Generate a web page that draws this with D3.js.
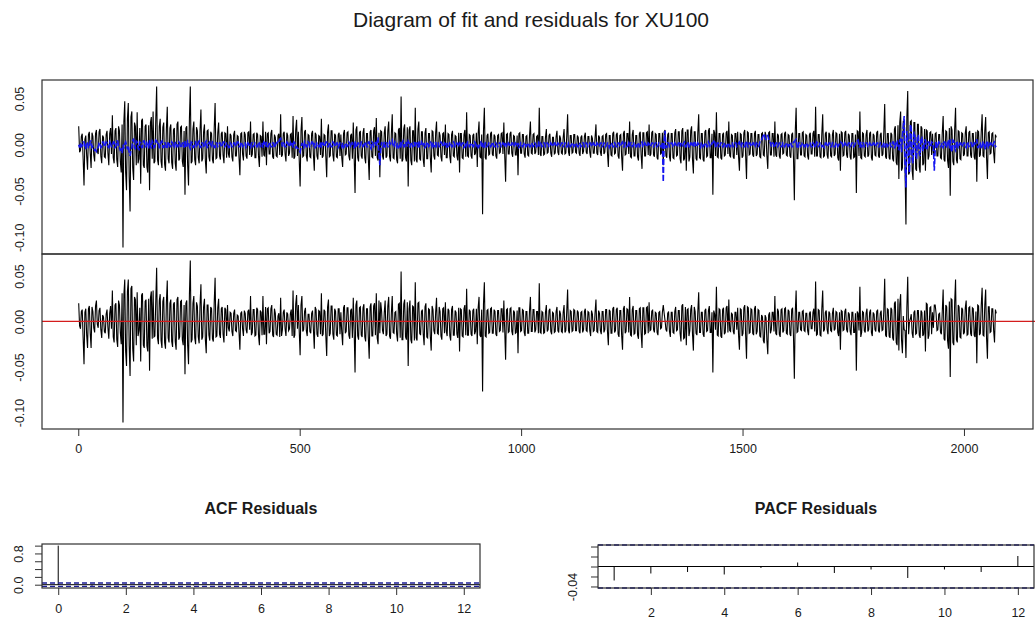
<!DOCTYPE html>
<html>
<head>
<meta charset="utf-8">
<script src="https://cdn.jsdelivr.net/npm/d3@7"></script>
<style>
  body { margin: 0; background: #fff; }
  svg { display: block; }
  text { font-family: "Liberation Sans", Arial, sans-serif; fill: #1a1a1a; }
</style>
</head>
<body>
<svg id="chart" width="1035" height="625"></svg>
<script>
// XU100 daily log-returns and the model's fitted values, one value every
// 2nd trading day, in thousandths.
const sampleStep = 2;

const observedMilli = [
  20, -8, -6, 9, 12, -15, -44, 6, 10, -12, -27, 11, 14, -9, -25, 13, 9, -11, -18, 12, 16, -7, -10, 14, 17, -12, -20, 10, 8, -13, -14, 11, 15, -9, -22, 12, 18, -10, 32, -14,
  -20, 15, 18, -16, -24, 20, 15, -18, -30, 22, -111, 25, 47, -30, -49, 28, 45, -35, -72, 30, 36, -25, -38, 24, 20, -22, 35, -20, -15, 18, -42, 26, 28, -22, -25, 20, 22, -24, -30, 21,
  -49, 24, 30, -15, 36, -20, -18, 27, 63, -16, -22, 20, 28, -18, -25, 19, 24, -21, -28, 17, 41, -15, -20, 18, 22, -19, -26, 16, 18, -20, -28, 22, 25, -17, -15, 19, 20, -18, -24, 15,
  -54, 18, 20, -22, -44, 28, 63, -20, -18, 17, 25, -16, -22, 19, 15, -14, -20, 16, 38, -18, -15, 14, 22, -17, -31, 15, 16, -13, -18, 14, 12, -16, -20, 18, 45, -15, -14, 13, 24, -12,
  -16, 12, 14, -11, -20, 13, 12, -14, 20, -10, -14, 12, 10, -13, -18, 11, 15, -12, -12, 10, 9, -14, -33, 12, 13, -10, -17, 14, 11, -12, -15, 13, 14, -11, 25, -13, -10, 11, 12, -14,
  -14, 13, 11, -12, -24, 10, 9, -13, 25, -11, -12, 14, -22, 12, 13, -10, -10, 12, 16, -13, -15, 11, 8, -12, -13, 10, 12, -11, 33, -13, -11, 12, 14, -10, -18, 13, 10, -12, -9, 11,
  12, -14, 31, -15, -13, 16, 27, -12, 14, -17, -45, 15, 30, -13, -12, 14, 16, -12, -18, 11, 10, -13, -14, 12, 15, -11, -28, 13, 11, -12, -16, 10, 9, -11, 28, -14, -12, 11, 10, -13,
  -35, 14, 22, -13, -12, 15, 15, -11, -18, 12, 10, -13, -14, 11, 13, -12, 11, -14, -24, 12, 16, -11, -10, 13, 14, -12, -17, 10, 12, -15, 24, -13, -52, 16, 20, -14, -18, 13, 15, -12,
  -15, 13, 18, -14, -20, 12, 12, -15, -38, 14, 16, -13, -14, 15, 19, -12, 29, -14, -17, 13, -35, 15, 14, -12, -16, 13, 20, -14, -12, 15, 25, -13, -18, 12, 33, -14, -15, 13, 12, -16,
  -20, 16, 18, -15, 52, -18, -16, 17, 22, -14, -18, 19, -45, 16, 20, -17, -22, 15, 15, -18, 40, -16, -19, 17, 25, -15, -17, 14, 14, -16, -24, 13, 18, -15, -15, 12, 12, -14, -30, 15,
  14, -12, -16, 13, 25, -11, -12, 14, 10, -13, -18, 12, 13, -11, 22, -14, -14, 12, 11, -13, -20, 11, 15, -12, -13, 10, 9, -12, -17, 13, -30, 12, 12, -14, -15, 11, 16, -13, 35, -12,
  -13, 11, 10, -12, -15, 10, 12, -11, -9, 13, -24, 12, 25, -13, -14, 11, -75, 15, 40, -14, -16, 10, 12, -11, -10, 12, 14, -10, -12, 11, 9, -12, -15, 10, 11, -9, -8, 12, 13, -10,
  24, -12, -40, 11, 12, -10, -10, 12, 14, -9, -13, 10, 9, -11, -11, 10, -33, 12, 13, -9, -9, 11, 11, -10, -14, 9, 10, -11, -12, 10, 25, -9, -10, 11, 12, -10, -8, 9, 10, -11,
  40, -10, -12, 9, 9, -11, -10, 8, 17, -9, -8, 10, 12, -9, -13, 8, 8, -10, -9, 9, 15, -8, -11, 10, 7, -9, -10, 8, 17, -10, -9, 9, 33, -8, -12, 10, 10, -9, -8, 11,
  11, -8, -9, 10, 8, -9, -12, 8, 10, -10, -7, 9, 13, -8, -10, 9, 9, -8, -14, 10, 7, -9, -9, 8, 22, -9, -11, 10, 8, -8, -12, 9, 10, -10, -8, 11, 12, -9, -24, 10,
  10, -11, -12, 12, 14, -10, -9, 11, 13, -12, -15, 10, 11, -13, -28, 12, 15, -11, -10, 12, 12, -10, 25, -13, -14, 11, 16, -12, -12, 10, 10, -13, -17, 12, 14, -11, -26, 13, 13, -12,
  -12, 13, 14, -11, 22, -12, -10, 13, 15, -11, -13, 12, 11, -14, -16, 12, 12, -10, -9, 13, -22, 14, 16, -12, -14, 11, 13, -13, -18, 12, 12, -14, -15, 13, 17, -12, -11, 14, 14, -15,
  -20, 15, 18, -17, -15, 14, -28, 16, 16, -18, -13, 15, 20, -16, -31, 14, 14, -15, -17, 13, 33, -14, -15, 12, 12, -16, -18, 14, 16, -13, -12, 15, 18, -14, -14, 12, -54, 16, 13, -12,
  35, -13, -14, 12, 12, -14, -16, 11, 13, -12, -11, 13, 15, -10, 25, -12, -13, 11, 10, -13, -15, 12, 12, -11, 14, -13, -28, 12, 11, -14, -12, 13, 16, -12, -37, 14, 13, -11, -10, 12,
  12, -11, -13, 12, 15, -12, -10, 11, 11, -13, -14, 12, 13, -11, -12, 14, 10, -12, -26, 13, 14, -11, -11, 12, 12, -13, 25, -11, -13, 12, 10, -12, -15, 11, 12, -10, -9, 12, 14, -11,
  -12, 11, 10, -12, -14, 11, 13, -13, -60, 14, 40, -15, -15, 12, 12, -11, -11, 13, 14, -12, -13, 11, 10, -12, -16, 11, 13, -10, -10, 12, 15, -13, 41, -12, -12, 11, 11, -13, -14, 12,
  33, -13, -12, 12, 14, -11, -15, 13, 11, -12, -13, 11, 16, -12, -10, 13, 12, -14, -17, 12, -28, 14, 13, -12, -11, 13, 15, -11, -14, 12, 10, -13, -16, 12, 12, -14, -13, 11, -52, 15,
  14, -12, 36, -14, -15, 13, 12, -12, -13, 11, 16, -13, -11, 12, 14, -14, -17, 12, 10, -11, -12, 13, 15, -12, -14, 11, 13, -12, -10, 14, 44, -13, -15, 12, 12, -14, -16, 13, 11, -15,
  -18, 17, 20, -19, -22, 21, -37, 24, 36, -28, -25, 26, 22, -30, -86, 30, 58, -32, -30, 25, 26, -28, -38, 24, 24, -26, -28, 22, 22, -24, -30, 20, 18, -22, -20, 17, -28, 16, 15, -16,
  -12, 13, 14, -11, 12, -10, -10, 12, 13, -12, -12, 11, 11, -14, -15, 13, 31, -16, -18, 15, 14, -17, -25, 18, -55, 20, 16, -18, -22, 17, 40, -16, -20, 15, 14, -15, -16, 13, 12, -12,
  -10, 13, 20, -12, -12, 13, 15, -11, -14, 12, 12, -13, -16, 14, -40, 15, 14, -13, -11, 14, 33, -12, -13, 15, 30, -14, -37, 13, 14, -10, -9, 12, 13, -8, -20, 11, 8
];

const fittedMilli = [
  0, -3, 2, -2, -1, 3, 3, -4, -4, 3, 2, -3, -3, 4, 4, -3, -2, -4, -6, -5, -7, -4, -3, 2, 2, -3, -2, 3, 3, -2, -1, 3, 2, -2, -3, 3, 1, -2, -2, 3,
  3, -3, -2, 4, 4, -3, -3, -6, -5, -9, 0, -4, 1, 3, 0, -5, -1, -8, -12, -6, -3, 5, 6, -3, -4, 4, 3, -4, -5, 3, 2, -3, -3, 4, 4, -2, -2, 3, 3, -4,
  5, -2, -3, 4, 2, -3, -2, 5, 4, 2, 3, -3, -2, 3, 4, -3, -3, 2, 2, -4, -4, 3, 3, -2, -2, 3, 2, -3, -3, 2, 3, -2, -2, 3, 2, -3, -3, 2, 2, -3,
  4, -2, -3, 4, 3, -2, -4, 3, 2, -3, -3, 2, 3, -2, -2, 3, 4, -3, -3, 2, 2, -2, -3, 3, 4, -3, -2, 2, 3, -2, -2, 3, 2, -3, -3, 2, 2, -2, -1, 2,
  2, -2, -2, 3, 3, -2, -1, 2, 2, -3, -3, 2, 1, -2, -2, 2, 2, -2, -1, 3, 3, -2, -2, 3, 2, -2, -1, 2, 2, -3, -2, 2, 1, -2, -3, 2, 2, -2, -1, 2,
  1, -2, -2, 3, 2, -2, -1, 2, -3, 3, 2, -2, 3, -2, -2, 3, 1, -2, -2, 2, 2, -3, -1, 2, 2, 4, 3, 6, 7, 3, -2, 2, 1, -2, -2, 3, 2, -2, -1, 2,
  -1, 2, -3, 3, 2, -3, -2, -4, -4, -6, -8, -3, 2, -2, -3, 3, 1, -2, -2, 3, 2, -2, -1, 3, 3, -2, 2, -3, -2, 2, 1, -2, -2, 3, -3, 2, 2, -2, -1, 3,
  3, -2, -2, 3, 1, -2, -2, 3, 2, -2, -1, 2, 2, -3, -1, 2, 1, -2, 2, -3, -2, 2, 1, -2, -1, 3, 2, -2, -2, 3, -2, -3, 4, -2, -3, 2, 2, -2, -1, 3,
  2, -2, -1, 3, 2, -2, -2, 3, 3, -2, -4, 3, 2, -2, -1, 3, -2, 4, 8, -10, -22, -6, 3, -2, -2, 3, -3, 2, 2, -2, -2, 3, 1, 3, 5, -2, -2, 3, 1, -2,
  2, -3, -2, 3, -3, 2, 4, -2, -2, 3, 2, -2, 4, 2, -3, 3, 2, -2, -1, 3, -3, 2, 2, -3, 4, -2, -2, 3, 1, -2, 2, -3, -2, 2, 3, -2, -1, 3, 2, -2,
  1, -2, -2, 3, -1, 2, 2, -2, -1, 3, 2, -2, -2, 2, 1, -3, 2, -2, -1, 3, 1, -2, -2, 3, 2, -2, -1, 2, 1, -2, 3, -2, -1, 2, 2, -3, -2, 2, -1, 3,
  2, -2, -1, 2, 1, -2, -2, 3, 2, -1, 1, -3, -2, 2, 3, -2, 2, -4, -3, 2, 1, -2, -1, 2, 2, -2, -1, 3, 1, -2, -2, 2, 1, -2, -1, 2, 2, -2, -1, 2,
  1, -2, 2, -2, -2, 2, 1, -2, -1, 2, 2, -2, -1, 2, 1, -2, 2, -3, -2, 2, 1, -2, -1, 2, 2, -2, -1, 2, 1, -2, -2, 2, 1, -2, -1, 2, 1, -2, -1, 2,
  -2, 2, 1, -2, -1, 2, 2, -2, -1, 2, 1, -2, -2, 2, 1, -2, -1, 2, 2, -2, -1, 2, 1, -2, -1, 2, 2, -2, -1, 2, 1, -2, -2, 2, 1, -2, -1, 2, 2, -2,
  -1, 2, 1, -2, -2, 2, 1, -2, -1, 2, 2, -2, -1, 2, 1, -2, -1, 2, 2, -2, -1, 2, 1, -2, -2, 2, 1, -2, -1, 2, 2, -2, -1, 2, 1, -2, -1, 2, 2, -3,
  -1, 2, 1, -2, -2, 2, 1, -2, -2, 2, 2, -2, -1, 2, 3, -2, -2, 2, 1, -2, -1, 2, -2, 2, 2, -2, -1, 2, 1, -2, -2, 2, 2, -2, -1, 2, 3, -2, -2, 2,
  1, -2, -2, 2, 1, -2, -1, 2, 2, -2, -1, 2, 2, -2, -1, 2, 1, -2, -2, 3, -40, 5, 15, -3, -3, 2, 2, -2, -1, 2, 2, -2, -2, 2, 1, -2, -2, 2, 2, -2,
  2, -2, -1, 2, 3, -2, -2, 3, 2, -2, -3, 2, 2, -2, 1, -2, 3, -2, -2, 2, 1, -2, -3, 2, 2, -2, -1, 2, 2, -2, -2, 3, 1, -2, -2, 2, 2, 4, 5, -3,
  -3, 2, 2, -2, -1, 2, 2, -2, -2, 2, 1, -2, -2, 2, 1, -2, -2, 2, 2, -2, -1, 2, 2, -2, -1, 2, 3, -2, -2, 2, 1, -2, -2, 3, 4, -2, -2, 2, 2, -2,
  -1, 2, 2, -2, -2, 2, 1, -2, -1, 3, 3, 5, 8, 10, 12, 7, 6, 9, 10, 6, 4, 2, -2, 2, 2, -2, -3, 2, 2, -2, -1, 2, 2, -2, -2, 2, 1, -2, -1, 2,
  2, -2, -1, 2, 2, -2, -2, 3, 3, 5, 6, -3, -4, 2, 2, -2, -1, 2, 2, -2, -2, 2, 1, -2, -1, 2, 2, -2, -2, 2, 1, -2, -3, 3, 2, -2, -1, 2, 2, -2,
  -1, -2, -3, 2, 2, -2, -1, 2, 2, -2, -2, 2, 1, -2, -2, 2, 2, -2, -1, 2, 3, 2, 2, -2, -2, 2, 1, -2, -2, 2, 2, -2, -1, 2, 2, -2, -1, 2, 2, 4,
  5, -2, -2, 3, -3, 2, 2, -2, -1, 2, 2, -2, -2, 2, 1, -2, -1, 2, 2, -2, -1, 2, 2, -2, -2, 2, 1, -2, -1, 2, -3, 2, 2, -2, -1, 2, 2, -2, -2, 3,
  3, -3, -2, 4, 4, -4, -5, 5, 6, -8, 10, 20, 31, -20, -46, 15, 9, -18, -30, 22, 18, -15, -20, 14, 12, -12, -15, 10, 10, -9, -12, 8, 8, -6, -6, 5, 5, -4, -4, 3,
  3, -2, -2, 3, 2, -3, -28, -6, 4, -2, -3, 3, 2, -2, -1, 2, -4, 3, 3, -3, -2, 4, 5, -4, 6, -5, -8, 5, 4, -4, -6, 4, 3, -3, -2, 2, 2, -2, -1, 2,
  2, -2, -3, 3, 2, -2, -1, 2, 2, -3, -2, 2, 1, 3, 6, -3, -3, 2, 2, -4, -4, 3, 3, -3, -5, 4, 4, -3, -2, 2, 2, -2, -1, 2, 3, -2, -1
];

// Autocorrelations of the residuals
const acfLags = [0, 1, 2, 3, 4, 5, 6, 7, 8, 9, 10, 11, 12];
const acfValues = [1, -0.027, -0.013, -0.011, -0.016, -0.003, 0.008, -0.013, -0.006, -0.022, -0.006, -0.011, 0.021];
const pacfLags = [1, 2, 3, 4, 5, 6, 7, 8, 9, 10, 11, 12];
const pacfValues = [-0.028, -0.014, -0.011, -0.016, -0.003, 0.008, -0.013, -0.006, -0.023, -0.006, -0.011, 0.021];

// Axis ticks and labels
const timeTicks = [0, 500, 1000, 1500, 2000];
const returnTicks = [0.05, 0, -0.05, -0.10];
const returnTickLabels = ["0.05", "0.00", "-0.05", "-0.10"];
const acfTicksX = [0, 2, 4, 6, 8, 10, 12];
const acfTicksY = [0, 0.2, 0.4, 0.6, 0.8, 1.0];
const acfLabelsY = { 0: "0.0", 0.8: "0.8" };
const pacfTicksX = [2, 4, 6, 8, 10, 12];
const pacfTicksY = [-0.04, -0.02, 0, 0.02, 0.04];
const pacfLabelsY = { "-0.04": "-0.04" };

const mainTitle = "Diagram of fit and residuals for XU100";
const acfTitle = "ACF Residuals";
const pacfTitle = "PACF Residuals";

// ---------------------------------------------------------------
const svg = d3.select("#chart");
const FONT = '"Liberation Sans", Arial, sans-serif';
const frameColor = "#303030";
const ciColor = "#1e1e96";

// R-style axis range: data range widened by 4% on each side
const pad4 = ([lo, hi]) => { const e = (hi - lo) * 0.04; return [lo - e, hi + e]; };

const n = Math.min(observedMilli.length, fittedMilli.length);
const observed = observedMilli.slice(0, n).map((v, i) => ({ day: 1 + i * sampleStep, v: v / 1000 }));
const fitted = fittedMilli.slice(0, n).map((v, i) => ({ day: 1 + i * sampleStep, v: v / 1000 }));
const residual = observed.map((d, i) => ({ day: d.day, v: d.v - fitted[i].v }));
const lastDay = observed[n - 1].day;

const fitBox = { left: 42, right: 1033, top: 80, bottom: 254 };
const resBox = { left: 42, right: 1033, top: 254, bottom: 429 };
const acfBox = { left: 42, right: 480, top: 544, bottom: 588 };
const pacfBox = { left: 598, right: 1034, top: 545, bottom: 588 };

const x = d3.scaleLinear().domain(pad4([1, lastDay])).range([fitBox.left, fitBox.right]);
const yFit = d3.scaleLinear().domain(pad4(d3.extent(observed, d => d.v))).range([fitBox.bottom, fitBox.top]);
const yRes = d3.scaleLinear().domain(pad4(d3.extent(residual, d => d.v))).range([resBox.bottom, resBox.top]);

svg.append("rect").attr("width", 1035).attr("height", 625).attr("fill", "#fff");

// main title
svg.append("text")
  .attr("x", 531).attr("y", 27)
  .attr("text-anchor", "middle")
  .style("font-size", "21px")
  .text(mainTitle);

function clipFor(id, b) {
  svg.append("clipPath").attr("id", id)
    .append("rect").attr("x", b.left).attr("y", b.top)
    .attr("width", b.right - b.left).attr("height", b.bottom - b.top);
  return `url(#${id})`;
}

function frame(b) {
  svg.append("rect")
    .attr("x", b.left).attr("y", b.top)
    .attr("width", b.right - b.left).attr("height", b.bottom - b.top)
    .attr("fill", "none").attr("stroke", frameColor).attr("stroke-width", 1.2);
}

// rotated y labels as R draws them (las = 0)
function leftAxis(scale, b, values, fmt, tickLen, gap) {
  const g = svg.append("g").attr("transform", `translate(${b.left},0)`)
    .call(d3.axisLeft(scale).tickValues(values).tickFormat(fmt).tickSize(tickLen).tickSizeOuter(0));
  g.select(".domain").remove();
  g.selectAll(".tick line").attr("stroke", frameColor);
  g.selectAll(".tick text")
    .attr("transform", "rotate(-90)")
    .attr("x", 0).attr("y", -gap).attr("dy", 0)
    .attr("text-anchor", "middle")
    .style("font-family", FONT).style("font-size", "12.5px").attr("fill", "#1a1a1a");
  return g;
}

function bottomAxis(scale, yPos, values, tickLen, baseline) {
  const g = svg.append("g").attr("transform", `translate(0,${yPos})`)
    .call(d3.axisBottom(scale).tickValues(values).tickFormat(d3.format("d")).tickSize(tickLen).tickSizeOuter(0));
  g.select(".domain").remove();
  g.selectAll(".tick line").attr("stroke", frameColor);
  g.selectAll(".tick text")
    .attr("y", baseline).attr("dy", 0)
    .style("font-family", FONT).style("font-size", "12.5px").attr("fill", "#1a1a1a");
  return g;
}

// ---- panel 1: observed series with fitted values -------------------
const lineFit = d3.line().x(d => x(d.day)).y(d => yFit(d.v));
const clip1 = clipFor("clip-fit", fitBox);
svg.append("path").datum(observed)
  .attr("d", lineFit).attr("clip-path", clip1)
  .attr("fill", "none").attr("stroke", "#000").attr("stroke-width", 1.1);
svg.append("path").datum(fitted)
  .attr("d", lineFit).attr("clip-path", clip1)
  .attr("fill", "none").attr("stroke", "#1414f0").attr("stroke-width", 1.6)
  .attr("stroke-dasharray", "6,2");
frame(fitBox);
leftAxis(yFit, fitBox, returnTicks, (d, i) => returnTickLabels[i], 0, 18);

// ---- panel 2: residuals ---------------------------------------------
const lineRes = d3.line().x(d => x(d.day)).y(d => yRes(d.v));
const clip2 = clipFor("clip-res", resBox);
svg.append("path").datum(residual)
  .attr("d", lineRes).attr("clip-path", clip2)
  .attr("fill", "none").attr("stroke", "#000").attr("stroke-width", 1.1);
svg.append("line")
  .attr("x1", resBox.left).attr("x2", 1035)
  .attr("y1", yRes(0)).attr("y2", yRes(0))
  .attr("stroke", "#d41c1c").attr("stroke-width", 1.3);
frame(resBox);
leftAxis(yRes, resBox, returnTicks, (d, i) => returnTickLabels[i], 0, 18);
bottomAxis(x, resBox.bottom, timeTicks, 7, 24);

// ---- panel 3: ACF of residuals -----------------------------------------
const ci = 1.96 / Math.sqrt(lastDay);
const xAcf = d3.scaleLinear().domain(pad4([0, 12])).range([acfBox.left, acfBox.right]);
const yAcf = d3.scaleLinear().domain(pad4([-ci, 1])).range([acfBox.bottom, acfBox.top]);

svg.append("text").attr("x", (acfBox.left + acfBox.right) / 2).attr("y", 514)
  .attr("text-anchor", "middle").style("font-size", "16px").style("font-weight", "bold")
  .text(acfTitle);

const acfG = svg.append("g").attr("clip-path", clipFor("clip-acf", acfBox));
acfG.selectAll("line.spike").data(acfLags).join("line")
  .attr("class", "spike")
  .attr("x1", d => xAcf(d)).attr("x2", d => xAcf(d))
  .attr("y1", yAcf(0)).attr("y2", (d, i) => yAcf(acfValues[i]))
  .attr("stroke", "#000").attr("stroke-width", 1);
acfG.append("line").attr("x1", acfBox.left).attr("x2", acfBox.right)
  .attr("y1", yAcf(0)).attr("y2", yAcf(0)).attr("stroke", "#000");
[ci, -ci].forEach(c => {
  acfG.append("line").attr("x1", acfBox.left).attr("x2", acfBox.right)
    .attr("y1", yAcf(c)).attr("y2", yAcf(c))
    .attr("stroke", ciColor).attr("stroke-width", 1.3).attr("stroke-dasharray", "5,3");
});
frame(acfBox);
leftAxis(yAcf, acfBox, acfTicksY, d => acfLabelsY[d] || "", 7, 19);
bottomAxis(xAcf, acfBox.bottom, acfTicksX, 7, 25);

// ---- panel 4: PACF of residuals ----------------------------------------
const xPacf = d3.scaleLinear().domain(pad4([1, 12])).range([pacfBox.left, pacfBox.right]);
const yPacf = d3.scaleLinear().domain([-ci, ci]).range([pacfBox.bottom, pacfBox.top]);

svg.append("text").attr("x", 816).attr("y", 514)
  .attr("text-anchor", "middle").style("font-size", "16px").style("font-weight", "bold")
  .text(pacfTitle);

const pacfG = svg.append("g");
pacfG.selectAll("line.spike").data(pacfLags).join("line")
  .attr("class", "spike")
  .attr("x1", d => xPacf(d)).attr("x2", d => xPacf(d))
  .attr("y1", yPacf(0)).attr("y2", (d, i) => yPacf(pacfValues[i]))
  .attr("stroke", "#000").attr("stroke-width", 1);
pacfG.append("line").attr("x1", pacfBox.left).attr("x2", pacfBox.right)
  .attr("y1", yPacf(0)).attr("y2", yPacf(0)).attr("stroke", "#000");
frame(pacfBox);
[ci, -ci].forEach(c => {
  pacfG.append("line").attr("x1", pacfBox.left).attr("x2", pacfBox.right)
    .attr("y1", yPacf(c)).attr("y2", yPacf(c))
    .attr("stroke", ciColor).attr("stroke-width", 1.3).attr("stroke-dasharray", "5,3");
});
leftAxis(yPacf, pacfBox, pacfTicksY, d => pacfLabelsY[String(d)] || "", 7, 21);
bottomAxis(xPacf, pacfBox.bottom, pacfTicksX, 7, 29);
</script>
</body>
</html>
